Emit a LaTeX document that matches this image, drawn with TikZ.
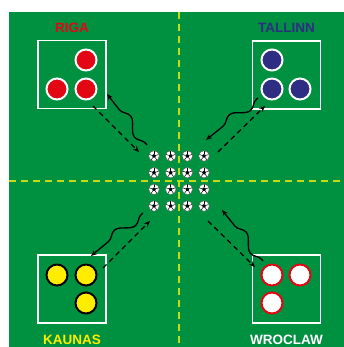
\documentclass[tikz,border=0pt]{standalone}
\usepackage{fontspec}
\setmainfont{Liberation Sans}
\usetikzlibrary{arrows.meta,positioning,decorations.pathmorphing}
\definecolor{pitch}{RGB}{0,145,64}
\definecolor{rigared}{RGB}{227,6,19}
\definecolor{tallblue}{RGB}{46,45,131}
\definecolor{kaunyellow}{RGB}{255,237,0}
\definecolor{midline}{RGB}{195,220,20}

\begin{document}
\begin{tikzpicture}[x=1pt,y=-1pt,
    node distance=7.5pt,
    zone/.style={draw=white,line width=1.2pt,minimum width=68pt,minimum height=68pt},
    city/.style={inner sep=0pt,font=\fontsize{13.5}{16}\selectfont\bfseries},
    player/.style={circle,line width=2pt,minimum size=21pt,inner sep=0pt},
    ball/.style={circle,draw=black!70,line width=0.3pt,fill=white,minimum size=10.5pt,inner sep=0pt,
      path picture={
        \fill[black] (path picture bounding box.center) +(90:2pt) -- +(162:2pt) -- +(234:2pt) -- +(306:2pt) -- +(18:2pt) -- cycle;
        \foreach \a in {90,162,234,306,18}
          \draw[black,line width=0.5pt] (path picture bounding box.center) +(\a:2pt) -- +(\a:5pt);
      }},
    pass/.style={-{Stealth[length=6pt,width=5pt]},draw=black,line width=1.3pt,dash pattern=on 5pt off 4pt},
    dribble/.style={-{Stealth[length=6pt,width=5pt]},draw=black,line width=1.3pt,decorate,
      decoration={snake,amplitude=5pt,segment length=38pt,pre length=2pt,post length=5pt}},
    halfway/.style={draw=midline,line width=1.3pt,dash pattern=on 7pt off 5pt}
  ]
    \useasboundingbox (0,0) rectangle (344,347);
    \fill[white] (0,0) rectangle (344,347);
    \fill[pitch] (9,12) rectangle (344,347);
    \draw[halfway] (179,12) -- (179,347);
    \draw[halfway] (9,181) -- (344,181);

    % zones and teams
    \node[zone] (riga) at (72,74.5) {};
    \node[city,text=rigared,above=of riga] (rigalabel) {RIGA};
    \node[player,fill=rigared,draw=white] (riga1) at (86,60) {};
    \node[player,fill=rigared,draw=white] (riga2) at (57,89) {};
    \node[player,fill=rigared,draw=white] (riga3) at (86,89) {};

    \node[zone] (tallinn) at (286.5,75) {};
    \node[city,text=tallblue,above=of tallinn] (tallinnlabel) {TALLINN};
    \node[player,fill=tallblue,draw=white] (tallinn1) at (272,60) {};
    \node[player,fill=tallblue,draw=white] (tallinn2) at (272,89) {};
    \node[player,fill=tallblue,draw=white] (tallinn3) at (300,89) {};

    \node[zone] (kaunas) at (72,289) {};
    \node[city,text=kaunyellow,below=11.5pt of kaunas] (kaunaslabel) {KAUNAS};
    \node[player,fill=kaunyellow,draw=black] (kaunas1) at (57,275) {};
    \node[player,fill=kaunyellow,draw=black] (kaunas2) at (86,275) {};
    \node[player,fill=kaunyellow,draw=black] (kaunas3) at (86,303) {};

    \node[zone] (wroclaw) at (286.5,289) {};
    \node[city,text=white,below=11.5pt of wroclaw] (wroclawlabel) {WROCLAW};
    \node[player,fill=white,draw=rigared] (wroclaw1) at (272,275) {};
    \node[player,fill=white,draw=rigared] (wroclaw2) at (300,275) {};
    \node[player,fill=white,draw=rigared] (wroclaw3) at (272,303) {};

    % balls in the middle
    \foreach \i in {0,...,3}
      \foreach \j in {0,...,3}
        \node[ball] (ball\i\j) at ({154+16.67*\i},{156+16.67*\j}) {};

    % runs
    \coordinate (rigaout) at (93,106);   \coordinate (rigato) at (139,152);
    \coordinate (rigaback) at (147,145); \coordinate (rigain) at (107,94);
    \coordinate (tallout) at (218,152);  \coordinate (tallto) at (265,106);
    \coordinate (tallback) at (258,98);  \coordinate (tallin) at (206,140);
    \coordinate (kaunout) at (103,268);  \coordinate (kaunto) at (150,221);
    \coordinate (kaunback) at (143,213); \coordinate (kaunin) at (91,256);
    \coordinate (wrocout) at (208,221);  \coordinate (wrocto) at (255,267);
    \coordinate (wrocback) at (263,261); \coordinate (wrocin) at (222,210);

    \draw[pass] (rigaout)--(rigato);\draw[dribble] (rigaback)--(rigain);
    \draw[pass] (tallout)--(tallto);\draw[dribble] (tallback)--(tallin);
    \draw[pass] (kaunout)--(kaunto);\draw[dribble] (kaunback)--(kaunin);
    \draw[pass] (wrocout)--(wrocto);\draw[dribble] (wrocback)--(wrocin);
  \end{tikzpicture}
\end{document}
